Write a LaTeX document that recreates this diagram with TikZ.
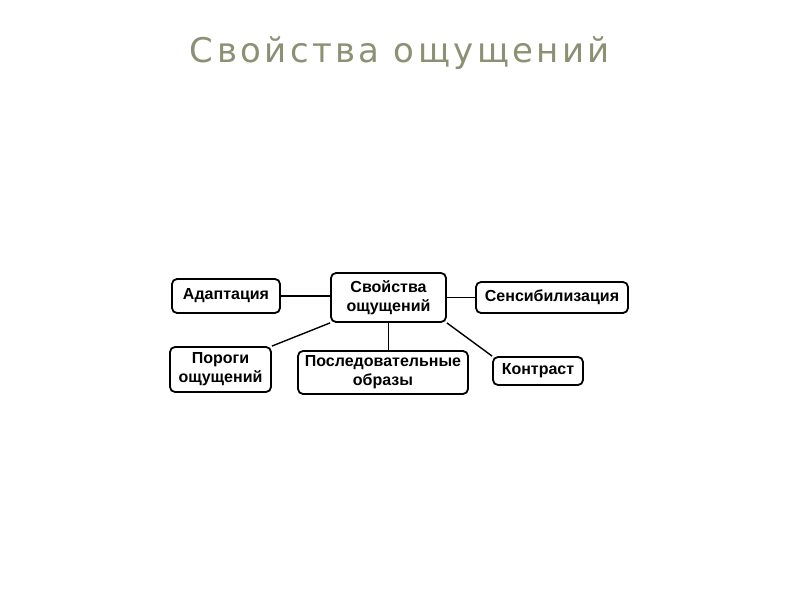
\documentclass[tikz,border=0pt]{standalone}
\usepackage{fontspec}
\setmainfont{Liberation Sans}
\newfontfamily\titlefont[LetterSpace=10]{DejaVu Sans}
\usetikzlibrary{positioning}
\definecolor{titlegreen}{RGB}{140,145,115}

\tikzset{
	box/.style={draw,line width=1.8pt,rounded corners=5pt,align=center,inner sep=0pt,
		font=\bfseries\fontsize{16}{19}\selectfont},
	link/.style={line width=1.4pt}
}

\begin{document}
\begin{tikzpicture}[x=1pt,y=1pt]
	\useasboundingbox[fill=white] (0,0) rectangle (800,600);
	\node[text=titlegreen,font=\titlefont\fontsize{34}{40}\selectfont,anchor=base] (title) at (400,537.5) {Свойства ощущений};

	\node[box,minimum width=115pt,minimum height=49pt] (main) at (388.5,302.5) {Свойства\\ощущений};
	\node[box,minimum width=108pt,minimum height=34pt] (adapt) at (226,304) {Адаптация};
	\node[box,minimum width=152pt,minimum height=31pt] (sens) at (552,302.5) {Сенсибилизация};
	\node[box,minimum width=101pt,minimum height=45pt] (porog) at (220.5,230.5) {Пороги\\ощущений};
	\node[box,minimum width=170pt,minimum height=43pt] (posl) at (383,227.5) {Последовательные\\образы};
	\node[box,minimum width=90pt,minimum height=28pt] (kontr) at (538,229) {Контраст};

	\draw[link] (adapt.east) -- (main.west |- adapt.east);
	\draw[link] (main.east |- sens.west) -- (sens.west);
	\draw[link] (main.south west) -- (porog.north east);
	\draw[link] (main.south) -- (main.south |- posl.north);
	\draw[link] (main.south east) -- (kontr.north west);
\end{tikzpicture}
\end{document}
